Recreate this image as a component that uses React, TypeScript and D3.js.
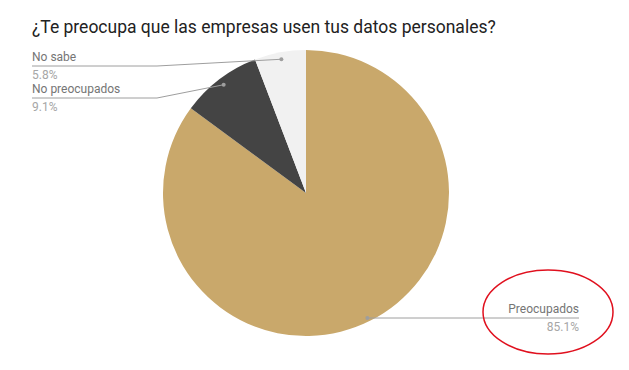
import React from "react";
import * as d3 from "d3";

const categories = ["Preocupados", "No preocupados", "No sabe"];
const values = [85.1, 9.1, 5.8];
const percentLabels = ["85.1%", "9.1%", "5.8%"];
const colors = ["#C9A86B", "#444444", "#F1F1F1"];
const title = "¿Te preocupa que las empresas usen tus datos personales?";

const W = 629;
const H = 370;
const cx = 306;
const cy = 193;
const R = 143;

// label layout: [textX, lineY, anchor, bendX, textEndX]
const labelLayout = [
  { x: 579, lineY: 318, anchor: "end", bendX: null as number | null, lineStart: null as number | null },
  { x: 32, lineY: 98, anchor: "start", bendX: 157, lineStart: 32 },
  { x: 32, lineY: 66, anchor: "start", bendX: 157, lineStart: 32 },
];

export default function App() {
  const pie = d3.pie<number>().sort(null).value((d) => d)(values);
  const arc = d3.arc<d3.PieArcDatum<number>>().innerRadius(0).outerRadius(R);
  const dotArc = d3.arc<d3.PieArcDatum<number>>().innerRadius(136).outerRadius(136);

  return (
    <svg
      width={W}
      height={H}
      style={{ position: "absolute", left: 0, top: 0, background: "#fff" }}
      fontFamily="Roboto, sans-serif"
    >
      <text x={32} y={33} fontSize={17.5} fill="#222">
        {title}
      </text>
      <g transform={`translate(${cx},${cy})`}>
        {pie.map((p, i) => (
          <path key={i} d={arc(p) || ""} fill={colors[i]} />
        ))}
      </g>
      {pie.map((p, i) => {
        const mid = (p.startAngle + p.endAngle) / 2;
        const dx = cx + 136 * Math.sin(mid);
        const dy = cy - 136 * Math.cos(mid);
        const L = labelLayout[i];
        let pts: [number, number][];
        if (L.anchor === "end") {
          pts = [
            [dx, L.lineY],
            [L.x, L.lineY],
          ];
        } else {
          pts = [
            [dx, dy],
            [L.bendX as number, L.lineY],
            [L.lineStart as number, L.lineY],
          ];
        }
        const line = d3.line()(pts) || "";
        return (
          <g key={i}>
            <path d={line} fill="none" stroke="#9E9E9E" strokeWidth={1} />
            <circle
              cx={L.anchor === "end" ? dx : dx}
              cy={L.anchor === "end" ? L.lineY : dy}
              r={2}
              fill="#9E9E9E"
            />
            <text
              x={L.x}
              y={L.lineY - 5}
              fontSize={12}
              fill="#757575"
              textAnchor={L.anchor as any}
            >
              {categories[i]}
            </text>
            <text
              x={L.x}
              y={L.lineY + 13}
              fontSize={12}
              fill="#A6A6A6"
              textAnchor={L.anchor as any}
            >
              {percentLabels[i]}
            </text>
          </g>
        );
      })}
      <ellipse cx={548} cy={312} rx={65} ry={42} fill="none" stroke="#E0101E" strokeWidth={1.5} />
    </svg>
  );
}
